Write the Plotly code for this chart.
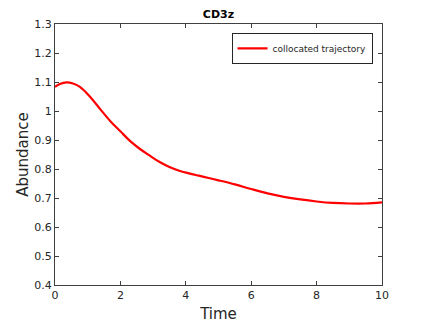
import plotly.graph_objects as go

# collocated trajectory
time = [0, 0.15, 0.35, 0.55, 0.75, 1.05, 1.4, 1.7, 2.0, 2.3, 2.6, 2.9, 3.2, 3.5,
        3.8, 4.1, 4.4, 4.7, 5.0, 5.5, 6.0, 6.5, 7.0, 7.5, 8.0, 8.5, 9.0, 9.5, 10]
abundance = [1.083, 1.093, 1.099, 1.095, 1.084, 1.052, 1.004, 0.964, 0.930, 0.896,
             0.869, 0.846, 0.824, 0.807, 0.794, 0.785, 0.777, 0.769, 0.761, 0.747,
             0.731, 0.716, 0.704, 0.695, 0.688, 0.683, 0.681, 0.681, 0.685]

x_ticks = [0, 2, 4, 6, 8, 10]
y_ticks = [0.4, 0.5, 0.6, 0.7, 0.8, 0.9, 1.0, 1.1, 1.2, 1.3]
y_labels = ["0.4", "0.5", "0.6", "0.7", "0.8", "0.9", "1", "1.1", "1.2", "1.3"]

fig = go.Figure(go.Scatter(
    x=time, y=abundance, mode="lines", line_shape="spline",
    line=dict(color="#ff0000", width=2.2),
    name="collocated trajectory"
))

axis_common = dict(
    showgrid=False, zeroline=False, showline=True, mirror="ticks",
    linecolor="#404040", linewidth=1, ticks="inside", ticklen=4,
    tickcolor="#404040", tickfont=dict(size=11, color="#262626"),
    automargin=False,
)

fig.update_layout(
    width=423, height=323,
    margin=dict(l=55, r=41, t=24, b=38),
    paper_bgcolor="white", plot_bgcolor="white",
    font=dict(family="DejaVu Sans", color="#262626"),
    title=dict(text="<b>CD3z</b>", x=(55 + 382) / 2 / 423, xanchor="center",
               y=1 - 14 / 323, yanchor="middle", font=dict(size=11, color="black")),
    xaxis=dict(range=[0, 10], tickvals=x_ticks,
               title=dict(text="Time", font=dict(size=15, color="#262626"), standoff=8),
               **axis_common),
    yaxis=dict(range=[0.4, 1.3], tickvals=y_ticks, ticktext=y_labels,
               title=dict(text="Abundance", font=dict(size=15, color="#262626"), standoff=2),
               **axis_common),
    showlegend=True,
    legend=dict(x=0.971, y=0.966, xanchor="right", yanchor="top",
                bgcolor="white", bordercolor="#262626", borderwidth=1,
                font=dict(size=9, color="#262626"), itemwidth=30,
                tracegroupgap=0),
)

# the page body has a default 8px margin; drop it so the figure sits at (0, 0)
fig.write_html("out.html", config={"displayModeBar": False},
               post_script="document.body.style.margin='0';")
